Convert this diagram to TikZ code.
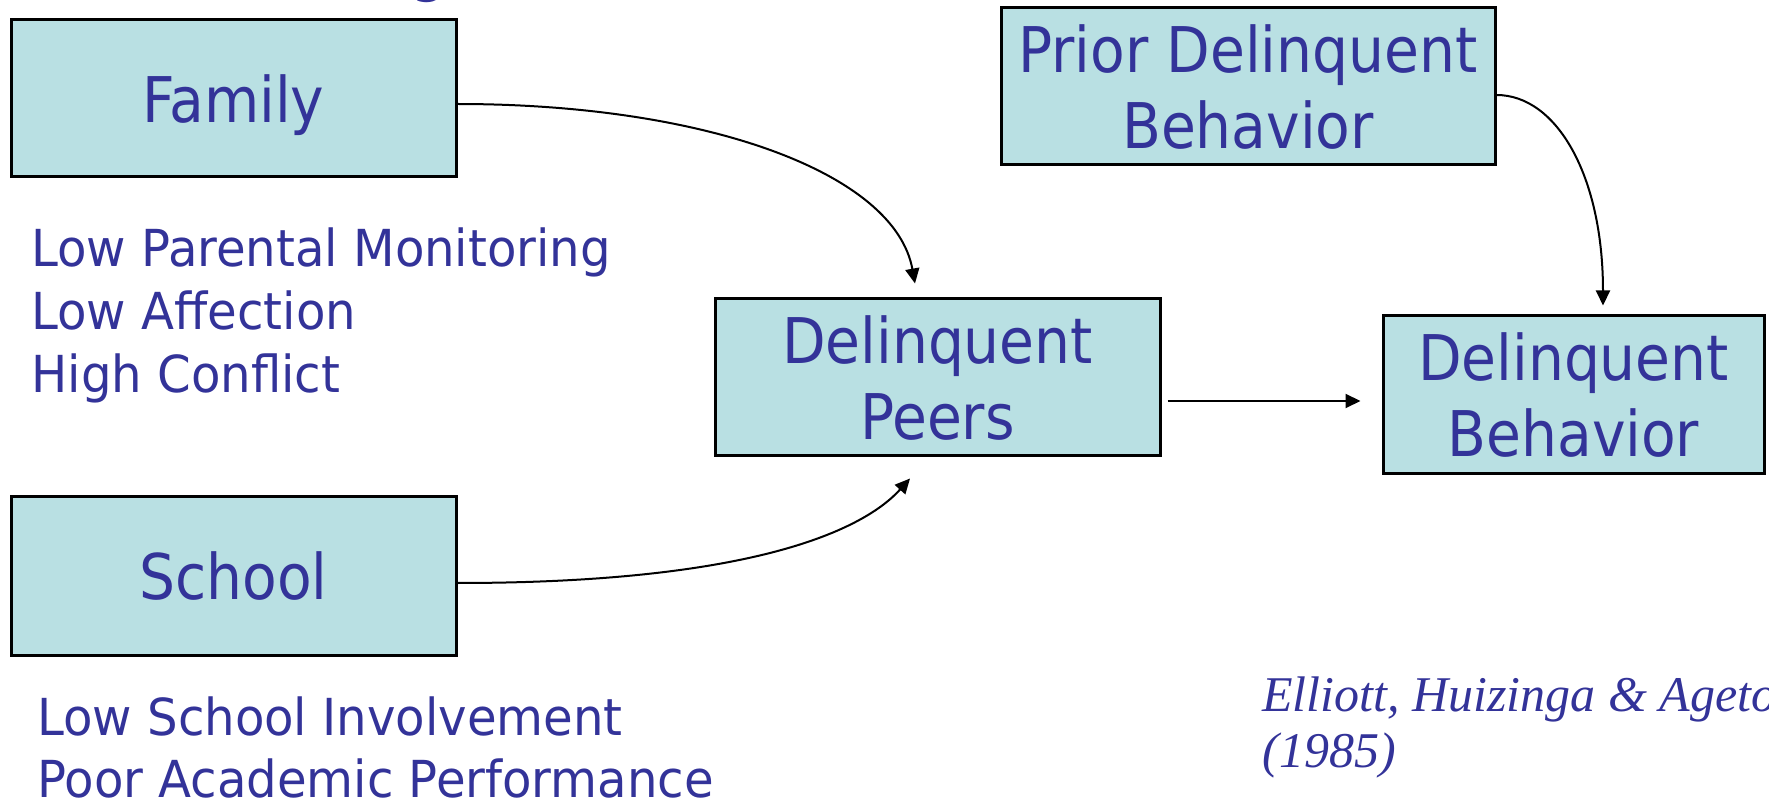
\documentclass[tikz,border=0pt]{standalone}
\usepackage{fontspec}
\setsansfont{DejaVu Sans Condensed}
\newfontfamily\listfont[FakeStretch=1.05]{DejaVu Sans Condensed}
\newfontfamily\citefont{Liberation Serif}
\usetikzlibrary{arrows.meta}
\definecolor{boxfill}{RGB}{185,224,227}
\definecolor{inkblue}{RGB}{51,51,153}
\tikzset{
  factorbox/.style={draw=black, line width=1.5pt, fill=boxfill, inner sep=0pt,
    text=inkblue, align=center, text depth=0pt,
    font=\sffamily\fontsize{31.5}{38}\selectfont},
  listline/.style={anchor=base west, inner sep=0pt, text=inkblue,
    font=\listfont\fontsize{25.5}{31.5}\selectfont},
  citeline/.style={anchor=base west, inner sep=0pt, text=inkblue,
    font=\citefont\itshape\fontsize{25}{28}\selectfont},
  link/.style={line width=1pt, -{Triangle[length=7.5pt,width=7pt]}}
}
\begin{document}
\begin{tikzpicture}[x=0.5pt, y=-0.5pt]
\useasboundingbox (0,0) rectangle (1769,802);

% heading, only its lowest stroke falls inside the page
\node[anchor=south, inner sep=0pt, text=inkblue,
      font=\sffamily\bfseries\fontsize{26}{30}\selectfont] (head) at (429,3) {g};

% factor boxes
\node[factorbox, minimum width=222.5pt, minimum height=78.5pt] (family) at (233.5,98.5) {Family};
\node[factorbox, minimum width=222.5pt, minimum height=79pt] (school) at (233.5,576) {School};
\node[factorbox, minimum width=222.5pt, minimum height=78.5pt] (peers) at (937.5,377.5) {Delinquent\\Peers};
\node[factorbox, minimum width=247pt, minimum height=78.5pt] (prior) at (1248,86.5) {Prior Delinquent\\Behavior};
\node[factorbox, minimum width=190.5pt, minimum height=79pt] (behav) at (1573.5,395) {Delinquent\\Behavior};

% family risk factors
\node[listline] (fam1) at (31,267) {Low Parental Monitoring};
\node[listline] (fam2) at (31,330) {Low Affection};
\node[listline] (fam3) at (31,393) {High Conflict};

% school risk factors
\node[listline] (sch1) at (37,735) {Low School Involvement};
\node[listline] (sch2) at (37,797) {Poor Academic Performance};

% source
\node[citeline] (cite1) at (1262,711) {Elliott, Huizinga \& Ageton};
\node[citeline] (cite2) at (1262,767) {(1985)};

% tip positions of the connectors
\coordinate (famtip) at ([xshift=-11.25pt, yshift=7pt]peers.north);
\coordinate (schtip) at ([xshift=-13.75pt, yshift=-10.5pt]peers.south);
\coordinate (peerstart) at ([xshift=3pt, yshift=-11.75pt]peers.east);
\coordinate (peertip) at ([xshift=-10.5pt]behav.west |- peerstart);
\coordinate (priortip) at ([xshift=14.75pt, yshift=4.5pt]behav.north);

% connectors
\draw[link] ([yshift=-2.75pt]family.east) .. controls +(250,0) and +(-20,-110) .. (famtip);
\draw[link] ([yshift=-3.5pt]school.east) .. controls +(300,0) and +(-45,50) .. (schtip);
\draw[link] (peerstart) -- (peertip);
\draw[link] ([yshift=-4.25pt]prior.east) .. controls +(60,0) and +(0,-130) .. (priortip);
\end{tikzpicture}
\end{document}
